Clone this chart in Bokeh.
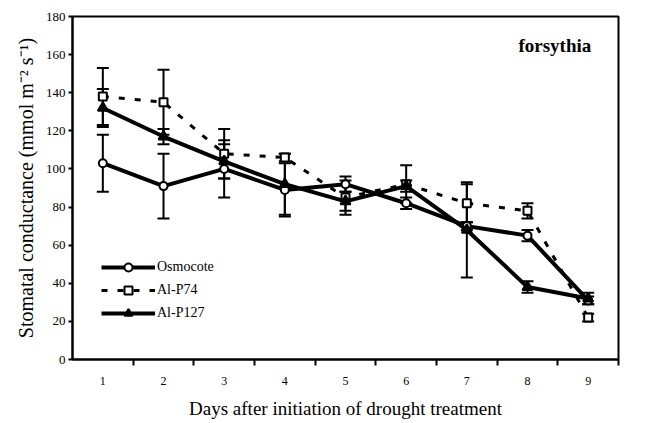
from bokeh.plotting import figure
from bokeh.models import (ColumnDataSource, Whisker, TeeHead, FixedTicker, Label,
                          Legend, LegendItem, Range1d)
from bokeh.embed import file_html
from bokeh.resources import INLINE

days = [1, 2, 3, 4, 5, 6, 7, 8, 9]
osmocote = [103, 91, 100, 89, 92, 82, 70, 65, 31]
osmocote_err = [15, 17, 15, 14, 4, 3, 2, 3, 2]
alp74 = [138, 135, 108, 106, 85, 92, 82, 78, 22]
alp74_err = [15, 17, 13, 2, 9, 10, 10, 4, 2]
alp127 = [132, 117, 104, 92, 83, 91, 68, 38, 32]
alp127_err = [10, 4, 9, 16, 5, 3, 25, 3, 3]
y_ticks = [0, 20, 40, 60, 80, 100, 120, 140, 160, 180]

FONT = "Liberation Serif"

p = figure(frame_width=546, frame_height=343, output_backend="svg", toolbar_location=None,
           x_range=Range1d(0.5, 9.5), y_range=Range1d(0, 180),
           min_border_left=72, min_border_right=24, min_border_top=16,
           min_border_bottom=10)
p.grid.visible = False
p.outline_line_color = "black"
p.outline_line_width = 2
p.background_fill_color = "white"

def add_series(vals, errs, dash, lw, marker, size, fill):
    src = ColumnDataSource(dict(x=days, y=vals,
                                upper=[v + e for v, e in zip(vals, errs)],
                                lower=[v - e for v, e in zip(vals, errs)]))
    w = Whisker(source=src, base="x", upper="upper", lower="lower",
                line_color="black", line_width=2,
                upper_head=TeeHead(size=12, line_width=2, line_color="black"),
                lower_head=TeeHead(size=12, line_width=2, line_color="black"))
    p.add_layout(w)
    l = p.line("x", "y", source=src, line_color="black", line_width=lw, line_dash=dash)
    s = p.scatter("x", "y", source=src, marker=marker, size=size,
                  fill_color=fill, line_color="black", line_width=2)
    return [l, s]

r_osm = add_series(osmocote, osmocote_err, "solid", 4, "circle", 8, "white")
r_p74 = add_series(alp74, alp74_err, "6 10", 3, "square", 8, "white")
r_p127 = add_series(alp127, alp127_err, "solid", 4, "triangle", 10, "black")

legend = Legend(items=[LegendItem(label="Osmocote", renderers=r_osm),
                       LegendItem(label="Al-P74", renderers=r_p74),
                       LegendItem(label="Al-P127", renderers=r_p127)],
                location=(29, 36), glyph_width=54, glyph_height=20,
                label_height=20, spacing=3, label_standoff=2,
                padding=0, margin=0, border_line_color=None,
                background_fill_alpha=0,
                label_text_font=FONT, label_text_font_size="14px",
                label_text_color="black")
p.add_layout(legend, "center")

p.add_layout(Label(x=7.85, y=165, text="forsythia", text_font=FONT,
                   text_font_size="19px", text_font_style="bold",
                   text_color="black",
                   text_baseline="middle", text_align="left"))

xa = p.xaxis[0]
xa.ticker = FixedTicker(ticks=days, minor_ticks=[1.5, 2.5, 3.5, 4.5, 5.5, 6.5, 7.5, 8.5, 9.5])
xa.major_tick_out = 0
xa.major_tick_in = 0
xa.minor_tick_out = 6
xa.minor_tick_in = 0
xa.minor_tick_line_color = "black"
xa.minor_tick_line_width = 2
xa.axis_line_width = 2
xa.major_label_standoff = 11
xa.major_label_text_font = FONT
xa.major_label_text_font_size = "12px"
xa.major_label_text_color = "black"
xa.axis_label = "Days after initiation of drought treatment"
xa.axis_label_text_font = FONT
xa.axis_label_text_font_size = "19px"
xa.axis_label_text_font_style = "normal"
xa.axis_label_text_color = "black"
xa.axis_label_standoff = 10

ya = p.yaxis[0]
ya.ticker = FixedTicker(ticks=y_ticks)
ya.major_tick_out = 4
ya.major_tick_in = 0
ya.major_tick_line_width = 2
ya.minor_tick_line_color = None
ya.axis_line_width = 2
ya.major_label_standoff = 3
ya.major_label_text_font = FONT
ya.major_label_text_font_size = "13px"
ya.major_label_text_color = "black"
ya.axis_label = "Stomatal conductance (mmol m\u207b\u00b2 s\u207b\u00b9)"
ya.axis_label_text_font = FONT
ya.axis_label_text_font_size = "20px"
ya.axis_label_text_font_style = "normal"
ya.axis_label_text_color = "black"
ya.axis_label_standoff = 6

open("out.html", "w").write(file_html(p, INLINE))
